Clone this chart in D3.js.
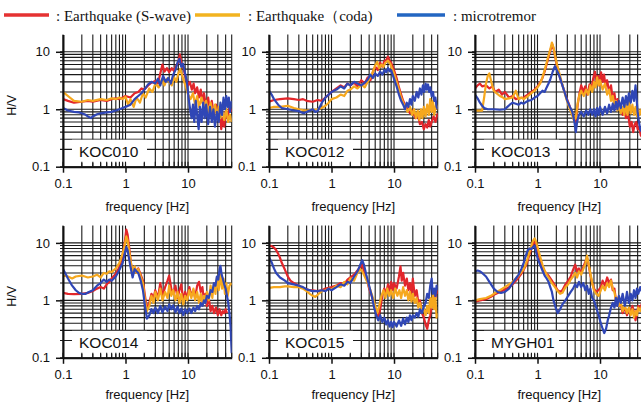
<!DOCTYPE html>
<html>
<head>
<meta charset="utf-8">
<script src="https://cdn.jsdelivr.net/npm/d3@7"></script>
<style>
  body { margin: 0; background: #fff; }
  svg { display: block; }
  .tick text { font-family: "Liberation Sans", Arial, sans-serif; font-size: 13px; fill: #111; }
</style>
</head>
<body>
<div id="chart"></div>
<script>
// H/V spectral ratios, six stations, log-log
const stations = ["KOC010", "KOC012", "KOC013", "KOC014", "KOC015", "MYGH01"]
const seriesNames = [": Earthquake (S-wave)", ": Earthquake\uFF08coda)", ": microtremor"]
const xTicks = [0.1, 1, 10]
const yTicks = [0.1, 1, 10]

// [frequency Hz, H/V]
const koc010Swave = [[0.1,1.5],[0.12,1.4],[0.15,1.3],[0.2,1.35],[0.25,1.4],[0.3,1.35],[0.4,1.45],[0.5,1.4],[0.6,1.5],[0.7,1.55],[0.8,1.5],[0.9,1.6],[1,1.7],[1.2,1.6],[1.4,1.9],[1.6,2.0],[1.8,2.3],[2,2.2],[2.3,2.6],[2.6,2.9],[3,3.1],[3.3,2.8],[3.6,4.2],[3.9,6],[4.2,4.5],[4.6,5.2],[5,4.4],[5.5,5.2],[6,4.6],[6.5,5.8],[7,6.5],[7.4,9],[7.8,6.5],[8.3,5.8],[9,3.8],[10,2.6],[10.7,3.0],[11.5,2.2],[12.3,2.8],[13,1.9],[14,2.4],[15,1.6],[16,2.2],[17,1.3],[18,1.9],[19.5,1.1],[21,1.6],[22.5,0.9],[24,1.4],[26,0.8],[28,1.2],[30,0.7],[32,1.0],[34,0.45],[36,0.7],[38,0.5],[40,0.9],[43,0.7],[46,1.1],[50,0.9]]
const koc010Coda = [[0.1,2.0],[0.12,1.7],[0.15,1.4],[0.2,1.35],[0.25,1.45],[0.3,1.4],[0.4,1.5],[0.5,1.45],[0.6,1.55],[0.7,1.5],[0.8,1.6],[0.9,1.5],[1,1.65],[1.1,1.2],[1.2,1.5],[1.35,1.1],[1.5,1.6],[1.7,1.3],[1.9,1.9],[2.1,1.6],[2.4,2.3],[2.7,2.0],[3,2.8],[3.4,2.4],[3.8,3.3],[4.2,2.6],[4.6,3.4],[5,3.0],[5.5,2.6],[6,3.6],[6.5,3.0],[7,4.2],[7.5,5],[8,4.0],[8.5,3.2],[9.2,2.5],[10,1.8],[11,1.5],[12,1.9],[13,1.2],[14,1.7],[15,1.1],[16.5,1.6],[18,1.0],[19.5,1.4],[21,0.9],[23,1.3],[25,0.8],[27,1.2],[29,0.75],[31,1.1],[33,0.7],[35,0.95],[38,0.65],[41,1.0],[44,0.6],[47,0.8],[50,0.6]]
const koc010Micro = [[0.1,1.05],[0.12,0.95],[0.15,0.9],[0.18,0.88],[0.2,0.85],[0.23,0.8],[0.26,0.73],[0.28,0.7],[0.3,0.75],[0.35,0.82],[0.4,0.85],[0.5,0.88],[0.6,0.9],[0.7,0.95],[0.8,1.0],[0.9,1.05],[1,1.1],[1.2,1.2],[1.4,1.5],[1.6,1.7],[1.8,1.9],[2,2.2],[2.3,2.7],[2.6,3.0],[3,2.8],[3.3,3.4],[3.6,2.6],[4,3.8],[4.4,3.0],[4.8,3.5],[5.3,2.8],[5.8,4.0],[6.3,4.8],[6.8,6.5],[7.3,7.5],[7.8,5.5],[8.3,6.2],[9,4.2],[9.6,3.0],[10.2,1.6],[10.8,1.0],[11.4,0.7],[12,1.2],[12.6,0.6],[13.3,1.4],[14,0.8],[14.8,0.45],[15.5,1.1],[16.5,0.6],[17.5,1.3],[18.5,0.7],[19.5,1.2],[21,0.55],[22.5,1.1],[24,0.6],[25.5,1.0],[27,0.5],[29,0.9],[31,0.6],[33,1.3],[35,0.8],[37,1.6],[39,1.0],[41,1.7],[43,1.1],[45,1.6],[47,0.9],[50,1.4]]

const koc012Swave = [[0.1,1.35],[0.12,1.45],[0.15,1.5],[0.2,1.55],[0.25,1.5],[0.3,1.45],[0.35,1.5],[0.4,1.4],[0.5,1.35],[0.6,1.45],[0.7,1.4],[0.8,1.6],[0.9,1.8],[1,2.0],[1.2,2.3],[1.4,2.6],[1.6,2.4],[1.8,2.8],[2,2.6],[2.3,2.9],[2.6,2.5],[3,3.2],[3.4,2.8],[3.8,3.6],[4.2,3.2],[4.6,4.5],[5,5.5],[5.5,4.8],[6,6.5],[6.5,5.5],[7,6.8],[7.5,7.2],[8,8.2],[8.5,7.0],[9,6.5],[10,4.8],[11,3.5],[12,2.4],[13,1.8],[14,1.4],[15,1.2],[16.5,1.0],[18,0.85],[20,0.95],[22,0.7],[24,0.8],[26,0.55],[28,0.6],[30,0.45],[32,0.55],[34,0.48],[36,0.65],[38,0.5],[40,0.6],[43,0.75],[46,0.6],[50,0.85]]
const koc012Coda = [[0.1,1.05],[0.12,1.1],[0.15,1.1],[0.2,1.15],[0.25,1.05],[0.3,1.0],[0.35,0.97],[0.4,0.95],[0.5,0.98],[0.6,1.0],[0.7,1.05],[0.8,1.15],[0.9,1.3],[1,1.5],[1.2,1.6],[1.4,1.8],[1.6,1.7],[1.8,2.1],[2,2.2],[2.3,2.5],[2.6,2.3],[3,2.7],[3.4,2.4],[3.8,3.0],[4.2,3.6],[4.6,4.5],[5,5.8],[5.4,6.7],[5.8,5.2],[6.3,6.0],[6.8,5.5],[7.3,6.5],[8,7.0],[8.7,6.2],[9.4,5.0],[10,4.2],[11,3.0],[12,2.2],[13,1.6],[14,1.3],[15,1.1],[16.5,0.9],[18,1.1],[19.5,0.8],[21,1.0],[22.5,0.7],[24,0.95],[25.5,0.65],[27,1.0],[28.5,0.7],[30,1.1],[32,0.75],[34,1.2],[36,0.8],[38,1.5],[40,0.9],[42,1.4],[44,0.8],[47,1.2],[50,1.0]]
const koc012Micro = [[0.1,2.1],[0.11,1.8],[0.12,1.5],[0.14,1.2],[0.16,1.05],[0.2,1.0],[0.25,0.95],[0.3,0.93],[0.33,0.88],[0.36,0.85],[0.4,0.9],[0.45,0.95],[0.5,1.0],[0.55,0.9],[0.6,0.93],[0.65,1.1],[0.7,1.3],[0.8,1.6],[0.9,1.8],[1,2.0],[1.2,2.2],[1.4,2.5],[1.6,2.3],[1.8,2.8],[2,2.6],[2.3,3.0],[2.6,2.8],[3,2.6],[3.4,2.9],[3.8,3.3],[4.2,4.0],[4.6,3.5],[5,4.2],[5.5,3.8],[6,4.5],[6.5,4.0],[7,4.8],[7.5,4.4],[8,5.2],[8.5,4.6],[9,4.8],[9.5,4.0],[10,3.4],[11,2.5],[12,1.8],[13,1.4],[14,1.2],[15,1.0],[16,1.3],[17,1.1],[18,1.5],[19,1.2],[20,1.7],[21.5,1.4],[23,2.0],[24.5,1.6],[26,2.3],[27.5,1.8],[29,2.6],[30.5,2.0],[32,2.8],[33.5,2.2],[35,2.7],[36.5,2.0],[38,2.4],[40,1.7],[42,2.0],[44,1.4],[46,1.6],[48,1.1],[50,1.0]]

const koc013Swave = [[0.1,2.3],[0.11,2.6],[0.12,2.8],[0.13,2.5],[0.15,2.6],[0.17,2.3],[0.19,2.5],[0.21,2.0],[0.24,2.2],[0.27,1.8],[0.3,2.0],[0.35,1.6],[0.4,1.7],[0.45,1.5],[0.5,1.55],[0.6,1.6],[0.7,1.8],[0.8,2.0],[0.9,2.2],[1,2.5],[1.1,2.9],[1.2,3.5],[1.3,4.5],[1.45,7],[1.6,10.5],[1.72,13.5],[1.82,11],[1.95,7.5],[2.1,5],[2.3,3.5],[2.6,2.3],[2.9,1.6],[3.2,1.2],[3.5,0.9],[3.8,0.7],[4.1,0.6],[4.4,1.2],[4.7,1.9],[5,2.6],[5.4,2.0],[5.8,2.5],[6.3,1.8],[6.8,2.7],[7.3,2.3],[7.8,3.5],[8.3,4.5],[8.8,3.0],[9.3,3.8],[9.8,2.6],[10.4,4.4],[11,3.0],[11.6,4.0],[12.3,2.5],[13,3.2],[14,2.0],[15,2.6],[16,1.5],[17,1.9],[18,1.2],[19,1.5],[20,1.0],[21.5,1.2],[23,0.8],[24.5,1.0],[26,0.7],[28,0.85],[30,0.5],[32,0.6],[34,0.4],[36,0.55],[38,0.6],[40,0.45],[42,0.5],[45,0.35],[50,0.3]]
const koc013Coda = [[0.1,0.95],[0.12,0.95],[0.13,0.95],[0.14,1.6],[0.15,2.8],[0.16,3.8],[0.17,4.2],[0.18,3.2],[0.19,2.5],[0.2,2.1],[0.22,1.9],[0.25,1.7],[0.28,1.6],[0.3,1.5],[0.35,1.55],[0.4,1.6],[0.45,2.1],[0.48,1.7],[0.5,1.5],[0.55,1.6],[0.6,1.5],[0.7,1.7],[0.8,1.9],[0.9,2.1],[1,2.4],[1.1,2.8],[1.2,3.6],[1.3,4.8],[1.45,7.5],[1.6,11],[1.7,14.5],[1.8,12],[1.9,9],[2.05,6],[2.3,3.8],[2.6,2.3],[2.9,1.5],[3.2,1.1],[3.5,0.85],[3.8,0.65],[4.1,0.7],[4.4,1.3],[4.7,1.8],[5,2.1],[5.5,1.7],[6,2.2],[6.5,1.8],[7,2.6],[7.5,2.0],[8,3.0],[8.5,2.4],[9,3.6],[9.5,2.6],[10,3.2],[11,2.2],[12,2.8],[13,1.8],[14,2.2],[15,1.4],[16,1.7],[17,1.1],[18,1.4],[19,0.95],[20,1.2],[21.5,0.85],[23,1.1],[24.5,0.8],[26,1.2],[27.5,0.8],[29,1.3],[31,0.85],[33,1.2],[35,0.8],[37,1.1],[39,0.75],[41,1.0],[43,0.8],[46,1.0],[50,0.9]]
const koc013Micro = [[0.1,1.8],[0.11,1.55],[0.12,1.3],[0.13,1.15],[0.14,1.05],[0.16,1.0],[0.2,1.0],[0.25,0.98],[0.3,1.0],[0.33,1.1],[0.36,1.2],[0.4,1.3],[0.45,1.25],[0.5,1.2],[0.55,1.3],[0.6,1.25],[0.7,1.4],[0.8,1.45],[0.9,1.6],[1,1.7],[1.1,1.9],[1.2,2.1],[1.3,2.0],[1.4,2.4],[1.5,2.8],[1.6,3.3],[1.75,4.5],[1.9,5.6],[2.0,5.0],[2.2,4.0],[2.4,3.0],[2.7,2.0],[3.0,1.4],[3.3,1.1],[3.6,0.9],[3.9,0.6],[4.1,0.4],[4.3,0.6],[4.6,0.8],[5,0.9],[5.5,0.75],[6,0.95],[6.5,0.8],[7,1.0],[7.5,0.8],[8,1.0],[8.5,0.75],[9,1.05],[9.5,0.8],[10,1.1],[11,0.8],[12,1.1],[13,0.85],[14,1.2],[15,0.9],[16,1.25],[17,0.95],[18,1.35],[19,1.0],[20,1.4],[21.5,1.05],[23,1.6],[24.5,1.1],[26,1.7],[27.5,1.2],[29,1.9],[31,1.3],[33,2.1],[35,1.4],[37,2.6],[38.5,1.5],[40,0.9],[42,0.6],[44,0.45],[47,0.4],[50,0.35]]

const koc014Swave = [[0.1,1.35],[0.12,1.3],[0.15,1.28],[0.2,1.3],[0.25,1.35],[0.3,1.45],[0.35,1.6],[0.4,1.7],[0.45,1.6],[0.5,1.9],[0.55,2.1],[0.6,2.4],[0.7,2.9],[0.8,3.8],[0.9,6.0],[0.97,10],[1.03,17],[1.08,14],[1.15,8],[1.22,4.5],[1.3,2.8],[1.4,3.8],[1.5,3.0],[1.6,3.6],[1.75,2.8],[1.9,2.2],[2.05,1.2],[2.2,0.7],[2.4,0.9],[2.6,1.3],[2.8,1.1],[3.0,1.5],[3.3,1.1],[3.6,2.0],[3.9,1.2],[4.3,1.7],[4.7,2.2],[5.0,2.7],[5.4,1.6],[5.8,1.3],[6.3,1.8],[6.8,1.1],[7.3,1.5],[7.8,1.9],[8.4,1.0],[9.0,1.4],[9.7,1.1],[10.5,1.7],[11.3,1.2],[12.2,1.5],[13,1.1],[14,1.8],[15,2.1],[16,1.4],[17,1.7],[18,1.0],[19,1.3],[20,0.8],[21.5,1.1],[23,0.65],[24.5,0.8],[26,0.6],[28,0.75],[30,0.55],[32,0.7],[34,0.55],[36,0.65],[38,0.6],[40,0.7],[42,0.6]]
const koc014Coda = [[0.1,2.7],[0.12,2.6],[0.14,2.4],[0.16,2.6],[0.2,2.7],[0.25,2.5],[0.3,2.6],[0.35,2.8],[0.4,2.5],[0.45,3.0],[0.5,2.9],[0.55,3.2],[0.6,3.1],[0.7,3.6],[0.8,4.5],[0.9,6.5],[0.97,9],[1.03,13],[1.08,11],[1.15,7],[1.22,4.5],[1.3,3.2],[1.4,3.9],[1.5,3.0],[1.6,3.5],[1.75,2.6],[1.9,2.0],[2.05,1.0],[2.2,0.65],[2.4,0.8],[2.6,1.2],[2.8,0.9],[3.0,1.4],[3.3,1.0],[3.6,1.6],[3.9,1.0],[4.3,1.4],[4.7,1.1],[5.0,1.8],[5.4,1.2],[5.8,1.5],[6.3,1.0],[6.8,1.4],[7.3,0.9],[7.8,1.3],[8.4,0.85],[9.0,1.2],[9.7,1.0],[10.5,1.5],[11.3,1.1],[12.2,1.6],[13,1.0],[14,1.4],[15,0.9],[16,1.3],[17,0.85],[18,1.2],[19,0.9],[20,1.4],[21.5,1.0],[23,1.8],[24.5,1.1],[26,2.0],[27.5,1.3],[29,2.5],[31,1.5],[33,2.8],[35,1.6],[37,2.4],[39,1.3],[41,2.0],[43,1.2],[46,1.8],[50,2.0]]
const koc014Micro = [[0.1,3.5],[0.11,2.9],[0.12,2.4],[0.14,1.8],[0.16,1.5],[0.18,1.35],[0.2,1.3],[0.23,1.3],[0.26,1.4],[0.3,1.5],[0.35,1.8],[0.4,2.0],[0.45,2.3],[0.5,2.1],[0.55,2.3],[0.6,2.2],[0.7,2.6],[0.8,3.4],[0.9,4.5],[0.97,6.5],[1.03,8.5],[1.08,7.5],[1.15,5],[1.22,3.5],[1.3,2.5],[1.4,3.5],[1.5,3.2],[1.6,3.0],[1.75,2.2],[1.9,1.5],[2.05,0.8],[2.2,0.48],[2.4,0.55],[2.6,0.7],[2.8,0.6],[3.0,0.75],[3.3,0.6],[3.6,0.8],[3.9,0.62],[4.3,0.78],[4.7,0.65],[5.0,0.85],[5.4,0.7],[5.8,0.82],[6.3,0.62],[6.8,0.78],[7.3,0.6],[7.8,0.72],[8.4,0.55],[9.0,0.7],[9.7,0.6],[10.5,0.72],[11.3,0.6],[12.2,0.75],[13,0.65],[14,0.8],[15,0.7],[16,0.9],[17,0.8],[18,1.0],[19,0.9],[20,1.2],[21.5,1.1],[23,1.5],[24.5,1.4],[26,2.0],[27.5,1.8],[29,2.6],[30.5,2.3],[32,3.5],[33,4.0],[34.5,2.8],[36,2.4],[38,1.9],[40,1.6],[42,1.2],[44,0.9],[46,0.6],[48,0.35],[49,0.2],[50,0.12]]

const koc015Swave = [[0.1,9.0],[0.11,8.8],[0.12,8.3],[0.13,7.5],[0.14,6.5],[0.15,5.5],[0.16,4.5],[0.18,3.4],[0.2,2.6],[0.22,2.2],[0.25,2.0],[0.3,1.8],[0.35,1.65],[0.4,1.55],[0.45,1.5],[0.5,1.5],[0.6,1.45],[0.7,1.5],[0.8,1.6],[0.9,1.65],[1,1.7],[1.2,1.8],[1.4,2.0],[1.6,1.9],[1.8,2.3],[2,2.5],[2.3,2.8],[2.6,3.3],[2.9,3.8],[3.1,4.2],[3.3,3.2],[3.6,2.5],[4,1.6],[4.4,1.2],[4.8,0.9],[5.2,0.6],[5.6,0.5],[6,0.7],[6.5,1.2],[7,1.6],[7.5,1.3],[8,1.9],[8.5,1.4],[9,2.1],[9.5,1.5],[10,2.0],[11,1.6],[12,2.6],[12.7,3.9],[13.3,2.2],[14,3.0],[15,1.8],[16,2.4],[17,1.5],[18,2.0],[19,1.3],[20,2.4],[21.5,1.2],[23,1.5],[24.5,0.9],[26,1.0],[28,0.6],[30,0.5],[32,0.38],[34,0.32],[36,0.45],[38,0.55],[40,0.8],[42,1.0],[44,1.3],[46,1.1],[48,1.5],[50,1.3]]
const koc015Coda = [[0.1,1.65],[0.12,1.7],[0.15,1.7],[0.18,1.75],[0.2,1.75],[0.25,1.7],[0.3,1.7],[0.35,1.6],[0.4,1.45],[0.45,1.3],[0.5,1.2],[0.55,1.15],[0.6,1.25],[0.7,1.45],[0.8,1.5],[0.9,1.6],[1,1.55],[1.2,1.8],[1.4,1.7],[1.6,2.1],[1.8,1.9],[2,2.4],[2.3,2.2],[2.6,3.0],[2.9,3.5],[3.1,3.2],[3.4,2.6],[3.8,2.0],[4.2,1.5],[4.6,1.1],[5,0.8],[5.4,0.6],[5.8,0.8],[6.3,1.2],[6.8,1.5],[7.3,1.1],[7.8,1.6],[8.4,1.2],[9,1.5],[9.7,1.1],[10.5,1.6],[11.3,1.2],[12.2,1.5],[13,1.1],[14,1.7],[15,1.2],[16,1.5],[17,1.0],[18,1.4],[19,0.95],[20,1.3],[21.5,0.9],[23,1.1],[24.5,0.75],[26,0.9],[28,0.65],[30,0.7],[32,0.55],[34,0.8],[36,0.6],[38,1.1],[40,0.75],[42,1.3],[44,0.7],[46,1.1],[48,0.5],[50,0.6]]
const koc015Micro = [[0.1,5.6],[0.11,4.6],[0.12,3.6],[0.13,3.0],[0.15,2.5],[0.18,2.2],[0.2,2.0],[0.25,1.9],[0.3,1.8],[0.35,1.7],[0.4,1.55],[0.5,1.45],[0.6,1.45],[0.7,1.5],[0.8,1.45],[0.9,1.6],[1,1.5],[1.2,1.7],[1.4,1.9],[1.6,1.8],[1.8,2.1],[2,2.0],[2.3,2.6],[2.6,3.2],[2.9,4.2],[3.1,5.0],[3.3,4.2],[3.6,2.8],[4,1.8],[4.4,1.2],[4.8,0.75],[5.2,0.55],[5.6,0.45],[6,0.55],[6.5,0.42],[7,0.5],[7.5,0.38],[8,0.45],[8.5,0.35],[9,0.42],[9.5,0.34],[10,0.42],[11,0.35],[12,0.45],[13,0.36],[14,0.48],[15,0.38],[16,0.5],[17,0.42],[18,0.55],[19,0.45],[20,0.55],[21.5,0.5],[23,0.6],[24.5,0.52],[26,0.7],[28,0.6],[30,0.8],[32,0.9],[34,1.3],[36,1.1],[38,1.8],[40,2.4],[41,1.6],[42,1.3],[44,1.6],[46,1.2],[48,1.8],[50,1.5]]

const mygh01Swave = [[0.1,0.95],[0.12,1.0],[0.15,1.05],[0.18,1.15],[0.2,1.25],[0.25,1.4],[0.3,1.55],[0.35,1.7],[0.4,1.9],[0.45,2.2],[0.5,2.5],[0.55,2.9],[0.6,3.4],[0.65,4.0],[0.7,5.0],[0.75,6.5],[0.8,8.0],[0.85,9.5],[0.9,10.5],[0.95,9.5],[1.0,7.5],[1.1,5.0],[1.2,3.8],[1.3,3.2],[1.4,2.9],[1.5,2.7],[1.7,2.2],[1.9,1.8],[2.1,1.5],[2.3,1.4],[2.5,1.5],[2.8,1.9],[3.1,2.2],[3.4,2.6],[3.7,3.4],[4,4.2],[4.3,3.2],[4.6,3.6],[5,3.0],[5.4,3.8],[5.8,4.6],[6.2,5.5],[6.6,4.0],[7,2.8],[7.5,2.0],[8,1.6],[8.7,1.4],[9.5,1.5],[10.3,1.7],[11,2.2],[12,1.8],[13,2.5],[14,2.0],[15,2.3],[16,1.5],[17,1.6],[18,1.0],[19,1.1],[20,0.8],[21.5,0.85],[23,0.6],[25,0.75],[27,0.55],[29,0.7],[31,0.6],[33,0.8],[35,0.6],[37,0.45],[39,0.6],[41,0.8],[44,0.7],[47,0.9],[50,1.0]]
const mygh01Coda = [[0.1,1.0],[0.12,1.05],[0.15,1.1],[0.18,1.2],[0.2,1.3],[0.25,1.5],[0.3,1.7],[0.35,1.9],[0.4,2.1],[0.45,2.4],[0.5,2.7],[0.55,3.1],[0.6,3.5],[0.65,4.3],[0.7,5.5],[0.75,7.2],[0.8,9.0],[0.85,11],[0.9,12],[0.95,10.5],[1.0,8.5],[1.1,5.8],[1.2,4.2],[1.3,3.3],[1.4,2.8],[1.5,2.5],[1.7,2.0],[1.9,1.7],[2.1,1.45],[2.3,1.3],[2.5,1.35],[2.8,1.7],[3.1,1.9],[3.4,2.3],[3.7,2.6],[4,3.0],[4.3,2.5],[4.6,3.2],[5,2.8],[5.4,3.5],[5.8,4.2],[6.2,6.0],[6.6,4.2],[7,3.0],[7.5,2.0],[8,1.5],[8.7,1.3],[9.5,1.2],[10.3,1.5],[11,1.8],[12,1.5],[13,2.0],[14,1.7],[15,2.2],[16,1.6],[17,1.4],[18,1.0],[19,1.1],[20,0.8],[21.5,0.9],[23,0.65],[25,0.8],[27,0.6],[29,0.75],[31,0.55],[33,0.7],[35,0.5],[37,0.65],[39,0.55],[41,0.75],[44,0.65],[47,0.8],[50,0.9]]
const mygh01Micro = [[0.1,3.2],[0.11,3.3],[0.12,3.2],[0.13,3.0],[0.15,2.6],[0.17,2.1],[0.2,1.6],[0.23,1.4],[0.26,1.35],[0.3,1.4],[0.35,1.6],[0.4,2.0],[0.45,2.4],[0.5,2.8],[0.55,3.5],[0.6,4.5],[0.65,6.0],[0.7,7.5],[0.75,8.0],[0.8,7.8],[0.85,8.5],[0.9,9.0],[0.95,7.0],[1.0,5.5],[1.1,4.2],[1.2,3.3],[1.3,2.7],[1.4,2.4],[1.5,2.1],[1.6,1.7],[1.7,1.4],[1.8,1.0],[1.95,0.75],[2.1,0.6],[2.3,0.7],[2.5,0.85],[2.8,1.0],[3.1,1.2],[3.4,1.4],[3.7,1.6],[4,1.9],[4.3,1.7],[4.6,2.1],[5,1.7],[5.4,2.0],[5.8,1.5],[6.2,1.8],[6.6,1.3],[7,1.6],[7.5,1.1],[8,1.0],[8.7,0.75],[9.5,0.55],[10.3,0.4],[11,0.32],[11.7,0.27],[12.5,0.32],[13.3,0.45],[14,0.55],[15,0.75],[16,0.9],[17,0.75],[18,1.1],[19,0.8],[20,1.2],[21.5,0.9],[23,1.3],[25,0.8],[27,1.4],[29,0.9],[31,1.3],[33,1.0],[35,1.5],[37,1.1],[39,1.6],[41,1.3],[44,1.7],[47,1.4],[50,1.5]]

const panelSeries = [
  [koc010Swave, koc010Coda, koc010Micro],
  [koc012Swave, koc012Coda, koc012Micro],
  [koc013Swave, koc013Coda, koc013Micro],
  [koc014Swave, koc014Coda, koc014Micro],
  [koc015Swave, koc015Coda, koc015Micro],
  [mygh01Swave, mygh01Coda, mygh01Micro]
]

const lineColors = ["#e2262b", "#f6a81e", "#2f46b6"]
const legendColors = ["#e53232", "#f2b320", "#2366c2"]

const width = 641, height = 404
const pw = 168.7, ph = 132.2     // plot area of one panel
const colLeft = [63, 269, 475]
const rowTop = [34.5, 225.6]

const svg = d3.select("#chart").append("svg")
  .attr("width", width).attr("height", height)

const x = d3.scaleLog().domain([0.1, 50]).range([0, pw])
const y = d3.scaleLog().domain([0.1, 20]).range([ph, 0])
const line = d3.line().x(d => x(d[0])).y(d => y(d[1]))

const xGrid = x.ticks()                      // 0.1 .. 50 minor lines
const yGrid = y.ticks().filter(v => v < 20)  // no top border

// legend
const legendX = [[4, 49, 56], [195, 240, 248], [397, 445, 453]]
seriesNames.forEach((name, i) => {
  const lg = svg.append("g")
  lg.append("line")
    .attr("x1", legendX[i][0]).attr("x2", legendX[i][1])
    .attr("y1", 15).attr("y2", 15)
    .attr("stroke", legendColors[i]).attr("stroke-width", 3.5)
  lg.append("text")
    .attr("x", legendX[i][2]).attr("y", 21)
    .attr("font-family", "'Liberation Serif', 'Times New Roman', serif")
    .attr("font-size", 15).attr("fill", "#111")
    .text(name)
})

stations.forEach((name, k) => {
  const col = k % 3, row = Math.floor(k / 3)
  const g = svg.append("g")
    .attr("transform", `translate(${colLeft[col]},${rowTop[row]})`)

  g.append("clipPath").attr("id", "clip" + k)
    .append("rect").attr("width", pw).attr("height", ph)

  // grid
  g.append("g").selectAll("line").data(xGrid).join("line")
    .attr("x1", d => x(d)).attr("x2", d => x(d))
    .attr("y1", 0).attr("y2", ph)
    .attr("stroke", "#1a1a1a").attr("stroke-width", 1.1)
  g.append("g").selectAll("line").data(yGrid).join("line")
    .attr("x1", -3).attr("x2", pw)
    .attr("y1", d => y(d)).attr("y2", d => y(d))
    .attr("stroke", "#1a1a1a").attr("stroke-width", 1.1)

  // curves: S-wave, coda, microtremor
  const curves = g.append("g").attr("clip-path", `url(#clip${k})`)
  panelSeries[k].forEach((s, i) => {
    curves.append("path").datum(s)
      .attr("d", line)
      .attr("fill", "none")
      .attr("stroke", lineColors[i])
      .attr("stroke-width", 2.2)
      .attr("stroke-linejoin", "round")
  })

  // station label on a white box
  g.append("rect")
    .attr("x", 9).attr("y", ph - 27).attr("width", 75).attr("height", 23)
    .attr("fill", "#fff")
  g.append("text")
    .attr("x", 16).attr("y", ph - 10)
    .attr("font-family", "'Liberation Sans', Arial, sans-serif")
    .attr("font-size", 15.5).attr("fill", "#111")
    .text(name)

  // inside minor ticks on the bottom axis
  g.append("g").selectAll("line").data(xGrid).join("line")
    .attr("x1", d => x(d)).attr("x2", d => x(d))
    .attr("y1", ph - 5).attr("y2", ph)
    .attr("stroke", "#1a1a1a").attr("stroke-width", 1.1)

  // axes
  const xAxis = g.append("g").attr("transform", `translate(0,${ph})`)
    .call(d3.axisBottom(x).tickValues(xTicks).tickFormat(d3.format("~g"))
      .tickSize(6).tickSizeOuter(0).tickPadding(6))
  const yAxis = g.append("g")
    .call(d3.axisLeft(y).tickValues(yTicks).tickFormat(d3.format("~g"))
      .tickSize(7).tickSizeOuter(0).tickPadding(6))
  ;[xAxis, yAxis].forEach(a => {
    a.select(".domain").attr("stroke", "#111").attr("stroke-width", 2)
    a.selectAll(".tick line").attr("stroke", "#111").attr("stroke-width", 1.5)
    a.attr("font-size", null).attr("font-family", null)
  })

  g.append("text")
    .attr("x", pw / 2).attr("y", ph + (row === 0 ? 44 : 41.5))
    .attr("text-anchor", "middle")
    .attr("font-family", "'Liberation Sans', Arial, sans-serif")
    .attr("font-size", 13).attr("fill", "#111")
    .text("frequency [Hz]")

  if (col === 0) {
    g.append("text")
      .attr("transform", `translate(${16 - colLeft[0]},${y(1) - 4}) rotate(-90)`)
      .attr("text-anchor", "middle")
      .attr("font-family", "'Liberation Sans', Arial, sans-serif")
      .attr("font-size", 12.5).attr("fill", "#111")
      .text("H/V")
  }
})
</script>
</body>
</html>
